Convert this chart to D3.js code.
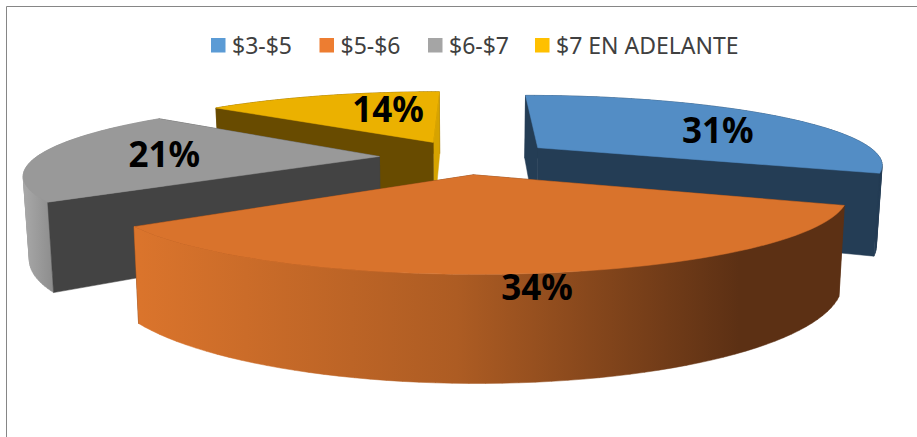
<!DOCTYPE html>
<html>
<head>
<meta charset="utf-8">
<title>Precios</title>
<script src="https://d3js.org/d3.v7.min.js"></script>
<style>
  body { margin: 0; background: #fff; }
  svg { display: block; }
</style>
</head>
<body>
<div id="chart"></div>
<script>
// data
const categories = ["$3-$5", "$5-$6", "$6-$7", "$7 EN ADELANTE"];
const shares = [31, 34, 21, 14];

const legendColors = ["#5b9bd5", "#ed7d31", "#a5a5a5", "#ffc000"];
const topColors = ["#538dc5", "#d9732c", "#999999", "#ebb100"];
const wallColors = ["#243d55", "#5c3014", "#434343", "#684b00"];

const width = 917, height = 437;

const svg = d3.select("#chart").append("svg")
    .attr("width", width)
    .attr("height", height);

// orange and grey rims are shaded across x, the others stay flat
const defs = svg.append("defs");
function rimGradient(id, x1, x2, stops) {
    const g = defs.append("linearGradient").attr("id", id)
        .attr("gradientUnits", "userSpaceOnUse")
        .attr("x1", x1).attr("x2", x2).attr("y1", 0).attr("y2", 0);
    stops.forEach(s => g.append("stop").attr("offset", s[0]).attr("stop-color", s[1]));
}
rimGradient("rim1", 140, 845, [[0, "#da742c"], [0.45, "#ad5c23"], [0.85, "#5c3014"], [1, "#5c3014"]]);
rimGradient("rim2", 26, 54, [[0, "#a6a6a6"], [1, "#8c8c8c"]]);
const rimFill = ["#243d55", "url(#rim1)", "url(#rim2)", "#684b00"];

// frame, only left and top survive the crop of the original
svg.append("path")
    .attr("d", "M6.5,437V6.5H917")
    .attr("fill", "none")
    .attr("stroke", "#868686")
    .attr("stroke-width", 1);

// perspective of the pie plane, u to the right and v away from the viewer
const cx = 465, cy = 157, F = 343, G = 67.8, k = 0.2235;
const thick = 78.7, shrink = 0.986, explode = 0.25;
// small sideways correction per slice
const sliceShift = [4, -3, 0, 3];

function project(u, v, down, dx) {
    const den = 1 + k * v;
    const x = cx + F * u / den;
    const y = cy - G * v / den;
    if (!down) return [x + dx, y];
    return [cx + (x - cx) * shrink + dx, y + thick / den];
}

const arcs = d3.pie().sort(null)(shares);

// the side wall folds over itself, so it goes in as a strip of quads
function stripPath(top, bottom) {
    let d = "";
    for (let j = 0; j < top.length - 1; j++) {
        let quad = [top[j], top[j + 1], bottom[j + 1], bottom[j]];
        if (d3.polygonArea(quad) < 0) quad.reverse();
        d += d3.line()(quad) + "Z";
    }
    return d;
}

function drawSlice(d, i) {
    const mid = (d.startAngle + d.endAngle) / 2;
    const dx = sliceShift[i];
    const cu = explode * Math.sin(mid), cv = explode * Math.cos(mid);
    const pt = (a, down) => project(cu + Math.sin(a), cv + Math.cos(a), down, dx);
    const apex = project(cu, cv, false, dx), apexDown = project(cu, cv, true, dx);

    const rim = d3.range(0, 61).map(j => d.startAngle + (d.endAngle - d.startAngle) * j / 60);
    const rimTop = rim.map(a => pt(a, false));
    const rimDown = rim.map(a => pt(a, true));
    const line = d3.line();

    const faces = [
        { v: cv + Math.cos(mid), path: stripPath(rimTop, rimDown), fill: rimFill[i] },
        { v: cv + Math.cos(d.startAngle) / 2, path: line([apex, pt(d.startAngle, false), pt(d.startAngle, true), apexDown]) + "Z", fill: wallColors[i] },
        { v: cv + Math.cos(d.endAngle) / 2, path: line([apex, pt(d.endAngle, false), pt(d.endAngle, true), apexDown]) + "Z",
          fill: i == 3 ? "#d6a300" : wallColors[i] }
    ];
    // far faces first, the top goes on last
    faces.sort((a, b) => b.v - a.v);

    const g = svg.append("g").attr("class", "slice");
    faces.forEach(f => {
        g.append("path").attr("d", f.path)
            .attr("fill", f.fill).attr("stroke", f.fill).attr("stroke-width", 0.5);
    });
    g.append("path").attr("d", line([apex].concat(rimTop)) + "Z")
        .attr("fill", topColors[i]).attr("stroke", topColors[i]).attr("stroke-width", 0.5);
}

// back slices before front ones
[0, 3, 2, 1].forEach(i => drawSlice(arcs[i], i));

// percentage labels, placed by hand in the original so each one has a nudge
const labelNudge = [[35, 6], [27, 63], [-11, 2], [29, 0]];
arcs.forEach((d, i) => {
    const mid = (d.startAngle + d.endAngle) / 2;
    const p = project((explode + 0.6) * Math.sin(mid), (explode + 0.6) * Math.cos(mid), false, 0);
    svg.append("text")
        .attr("x", p[0] + labelNudge[i][0])
        .attr("y", p[1] + labelNudge[i][1])
        .attr("text-anchor", "middle")
        .attr("dominant-baseline", "middle")
        .attr("font-family", "'Noto Sans', sans-serif")
        .attr("font-weight", "bold")
        .attr("font-size", 35)
        .attr("fill", "#000")
        .text(d3.format("d")(d.data) + "%");
});

// legend
const swatchX = [211, 319.5, 428, 535];
const legend = svg.append("g").attr("font-family", "'Noto Sans', sans-serif")
    .attr("font-size", 23).attr("fill", "#404040");
categories.forEach((c, i) => {
    legend.append("rect")
        .attr("x", swatchX[i]).attr("y", 38)
        .attr("width", 14.5).attr("height", 14.5)
        .attr("fill", legendColors[i]);
    legend.append("text")
        .attr("x", swatchX[i] + 21).attr("y", 54)
        .text(c);
});
</script>
</body>
</html>
